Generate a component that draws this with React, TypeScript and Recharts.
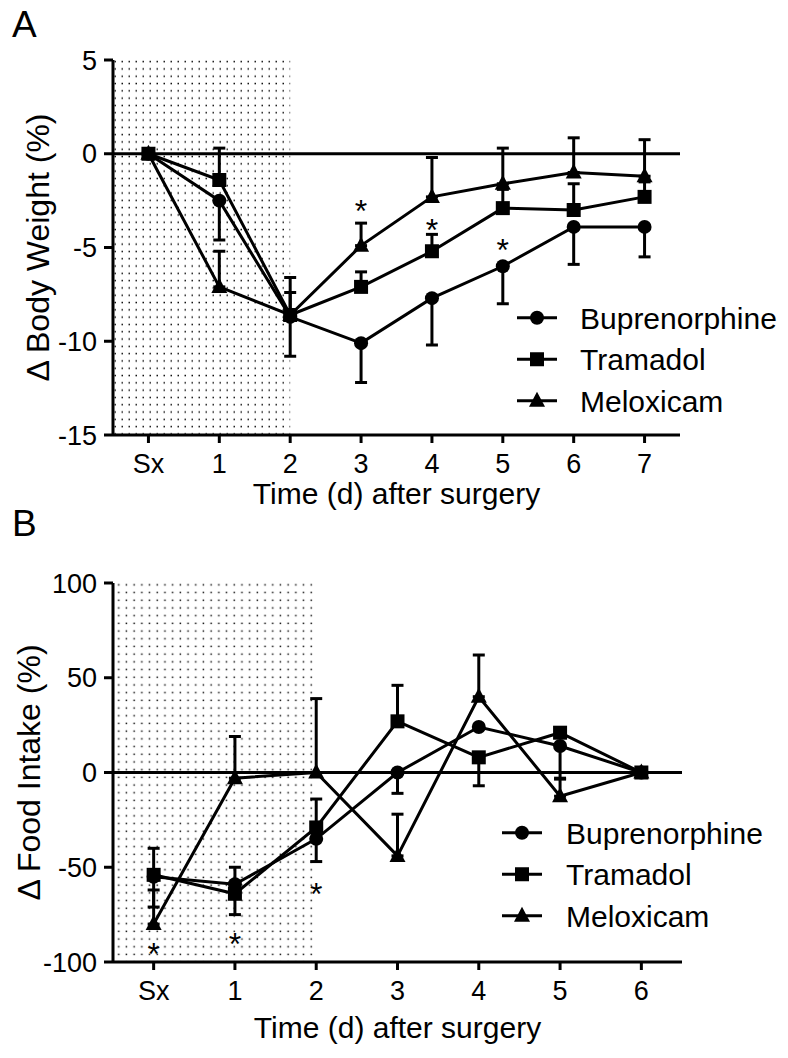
import React from 'react';
import {
  ComposedChart,
  Line,
  XAxis,
  YAxis,
  ErrorBar,
  ReferenceArea,
  ReferenceLine,
  ReferenceDot,
  Legend,
} from 'recharts';

const FONT = '"Liberation Sans", Arial, Helvetica, sans-serif';

// ---------- Panel A: body weight ----------
const daysA = [0, 1, 2, 3, 4, 5, 6, 7];
const tickLabelsA = ['Sx', '1', '2', '3', '4', '5', '6', '7'];
const yTicksA = [-15, -10, -5, 0, 5];
const bupA = [0, -2.5, -8.7, -10.1, -7.7, -6.0, -3.9, -3.9];
const bupErrA = [null, [2.1, 0], [2.1, 0], [2.1, 0], [2.5, 0], [2.0, 0], [2.0, 0], [1.6, 0]];
const traA = [0, -1.4, -8.6, -7.1, -5.2, -2.9, -3.0, -2.3];
const traErrA = [null, [0, 1.7], [0, 1.2], [0, 0.8], [0, 0.9], [0, 1.0], [0, 1.4], [0, 0.8]];
const melA = [0, -7.1, -8.6, -4.9, -2.3, -1.6, -1.0, -1.2];
const melErrA = [null, [0, 1.9], [0, 2.0], [0, 1.2], [0, 2.1], [0, 1.9], [0, 1.85], [0, 1.95]];
const starXA = [3, 4, 5];
const starYA = [-2.66, -3.67, -4.73];

// ---------- Panel B: food intake ----------
const daysB = [0, 1, 2, 3, 4, 5, 6];
const tickLabelsB = ['Sx', '1', '2', '3', '4', '5', '6'];
const yTicksB = [-100, -50, 0, 50, 100];
const bupB = [-55, -59, -35, 0, 24, 14, 0];
const bupErrB = [[16, 0], [0, 9], [12, 0], [11, 0], null, [17, 0], null];
const traB = [-54, -64, -29, 27, 8, 21, 0];
const traErrB = [[0, 14], [11, 0], [0, 15], [0, 19], [15, 0], null, null];
const melB = [-80, -3, 0, -44, 40, -12.5, 0];
const melErrB = [[0, 18], [0, 22], [0, 39], [0, 22], [0, 22], [0, 9], null];
const starXB = [0, 1, 2];
const starYB = [-91.8, -86.5, -60.2];

const seriesNames = ['Buprenorphine', 'Tramadol', 'Meloxicam'];
const seriesShapes = ['circle', 'square', 'triangle'];

const dataA = daysA.map((d, i) => ({
  x: d,
  bup: bupA[i],
  bupErr: bupErrA[i],
  tra: traA[i],
  traErr: traErrA[i],
  mel: melA[i],
  melErr: melErrA[i],
}));
const dataB = daysB.map((d, i) => ({
  x: d,
  bup: bupB[i],
  bupErr: bupErrB[i],
  tra: traB[i],
  traErr: traErrB[i],
  mel: melB[i],
  melErr: melErrB[i],
}));

function Marker({ shape, cx, cy }: { shape: string; cx?: number; cy?: number }) {
  if (cx == null || cy == null || isNaN(cx) || isNaN(cy)) return null;
  if (shape === 'circle') return <circle cx={cx} cy={cy} r={7} fill="#000" />;
  if (shape === 'square') return <rect x={cx - 7} y={cy - 7} width={14} height={14} fill="#000" />;
  return <polygon points={`${cx},${cy - 9} ${cx - 8},${cy + 6} ${cx + 8},${cy + 6}`} fill="#000" />;
}

function LegendBox({ textX }: { textX: number }) {
  return (
    <svg width={290} height={125} style={{ display: 'block', overflow: 'visible' }}>
      {seriesNames.map((name, i) => {
        const y = 20.75 + i * 41.5;
        return (
          <g key={name}>
            <line x1={0} x2={40} y1={y} y2={y} stroke="#000" strokeWidth={3} />
            <Marker shape={seriesShapes[i]} cx={20} cy={y} />
            <text x={textX} y={y} dy="0.36em" fontSize={30} fontFamily={FONT} fill="#000">
              {name}
            </text>
          </g>
        );
      })}
    </svg>
  );
}

const Star = (p: any) =>
  p.cx == null ? null : (
    <text x={p.cx} y={p.cy} dy="0.58em" textAnchor="middle" fontSize={32} fontFamily={FONT} fill="#000">
      *
    </text>
  );

const axisStyle = { stroke: '#000', strokeWidth: 3 };
const tickStyle = { fill: '#000', fontSize: 27, fontFamily: FONT };

function makeXTitle(offsetY: number) {
  return (p: any) => {
    const vb = p.viewBox || {};
    return (
      <text
        x={vb.x + vb.width / 2}
        y={vb.y + offsetY}
        textAnchor="middle"
        fontSize={30}
        fontFamily={FONT}
        fill="#000"
      >
        Time (d) after surgery
      </text>
    );
  };
}

function makeYTitle(text: string, cx: number) {
  return (p: any) => {
    const vb = p.viewBox || {};
    const cy = vb.y + vb.height / 2;
    return (
      <text
        x={cx}
        y={cy}
        dy="0.36em"
        transform={`rotate(-90, ${cx}, ${cy})`}
        textAnchor="middle"
        fontSize={32}
        fontFamily={FONT}
        fill="#000"
      >
        {text}
      </text>
    );
  };
}

function renderLines(prefix: string) {
  const keys = ['bup', 'tra', 'mel'];
  return keys.map((k, i) => (
    <Line
      key={prefix + k}
      dataKey={k}
      name={seriesNames[i]}
      stroke="#000"
      strokeWidth={3}
      isAnimationActive={false}
      dot={(p: any) => <Marker key={`${prefix}${k}${p.index}`} shape={seriesShapes[i]} cx={p.cx} cy={p.cy} />}
      activeDot={false}
    >
      <ErrorBar dataKey={k + 'Err'} width={6} stroke="#000" strokeWidth={3} isAnimationActive={false} />
    </Line>
  ));
}

export default function App() {
  return (
    <div style={{ position: 'absolute', left: 0, top: 0, width: 788, height: 1058, background: '#fff', fontFamily: FONT }}>
      <svg width={0} height={0} style={{ position: 'absolute' }}>
        <defs>
          <pattern id="dotsA" x={0} y={0} width={7} height={7.3} patternUnits="userSpaceOnUse">
            <rect x={2.5} y={2.5} width={1.5} height={1.5} fill="#111" />
          </pattern>
          <pattern id="dotsB" x={0} y={0} width={7.7} height={7.7} patternUnits="userSpaceOnUse">
            <rect x={2.5} y={2.5} width={1.5} height={1.5} fill="#111" />
          </pattern>
        </defs>
      </svg>

      <div style={{ position: 'absolute', left: 0, top: 0 }}>
        <ComposedChart width={788} height={540} data={dataA} margin={{ top: 60, right: 108, bottom: 20, left: 0 }}>
          <XAxis
            dataKey="x"
            type="number"
            domain={[-0.5, 7.5]}
            ticks={daysA}
            tickFormatter={(v: number) => tickLabelsA[v]}
            height={85}
            axisLine={axisStyle}
            tickLine={axisStyle}
            tickSize={8}
            tickMargin={11}
            tick={tickStyle}
            interval={0}
            label={{ content: makeXTitle(69) }}
          />
          <YAxis
            type="number"
            domain={[-15, 5]}
            ticks={yTicksA}
            width={113}
            axisLine={axisStyle}
            tickLine={axisStyle}
            tickSize={9}
            tickMargin={7}
            tick={tickStyle}
            interval={0}
            allowDataOverflow
            label={{ content: makeYTitle('Δ Body Weight (%)', 37) }}
          />
          <ReferenceArea x1={-0.5} x2={2} y1={-15} y2={5} fill="url(#dotsA)" fillOpacity={1} stroke="none" />
          <ReferenceLine y={0} stroke="#000" strokeWidth={3} />
          {renderLines('a')}
          {starXA.map((x, i) => (
            <ReferenceDot key={'sa' + i} x={x} y={starYA[i]} r={0} shape={Star} />
          ))}
          <Legend
            layout="vertical"
            align="center"
            verticalAlign="middle"
            content={() => <LegendBox textX={63} />}
            wrapperStyle={{ left: 517, top: 297, width: 290, height: 125 }}
          />
        </ComposedChart>
      </div>

      <div style={{ position: 'absolute', left: 0, top: 520 }}>
        <ComposedChart width={788} height={538} data={dataB} margin={{ top: 63, right: 106, bottom: 0, left: 0 }}>
          <XAxis
            dataKey="x"
            type="number"
            domain={[-0.5, 6.5]}
            ticks={daysB}
            tickFormatter={(v: number) => tickLabelsB[v]}
            height={96}
            axisLine={axisStyle}
            tickLine={axisStyle}
            tickSize={8}
            tickMargin={11}
            tick={tickStyle}
            interval={0}
            label={{ content: makeXTitle(76) }}
          />
          <YAxis
            type="number"
            domain={[-100, 100]}
            ticks={yTicksB}
            width={113}
            axisLine={axisStyle}
            tickLine={axisStyle}
            tickSize={9}
            tickMargin={7}
            tick={tickStyle}
            interval={0}
            allowDataOverflow
            label={{ content: makeYTitle('Δ Food Intake (%)', 28) }}
          />
          <ReferenceArea x1={-0.5} x2={2} y1={-100} y2={100} fill="url(#dotsB)" fillOpacity={1} stroke="none" />
          <ReferenceLine y={0} stroke="#000" strokeWidth={3} />
          {renderLines('b')}
          {starXB.map((x, i) => (
            <ReferenceDot key={'sb' + i} x={x} y={starYB[i]} r={0} shape={Star} />
          ))}
          <Legend
            layout="vertical"
            align="center"
            verticalAlign="middle"
            content={() => <LegendBox textX={64} />}
            wrapperStyle={{ left: 502, top: 292, width: 290, height: 125 }}
          />
        </ComposedChart>
      </div>

      <svg width={788} height={1058} style={{ position: 'absolute', left: 0, top: 0, pointerEvents: 'none' }}>
        <text x={12} y={37} fontSize={37} fontFamily={FONT} fill="#000">A</text>
        <text x={12} y={536} fontSize={37} fontFamily={FONT} fill="#000">B</text>
      </svg>
    </div>
  );
}
